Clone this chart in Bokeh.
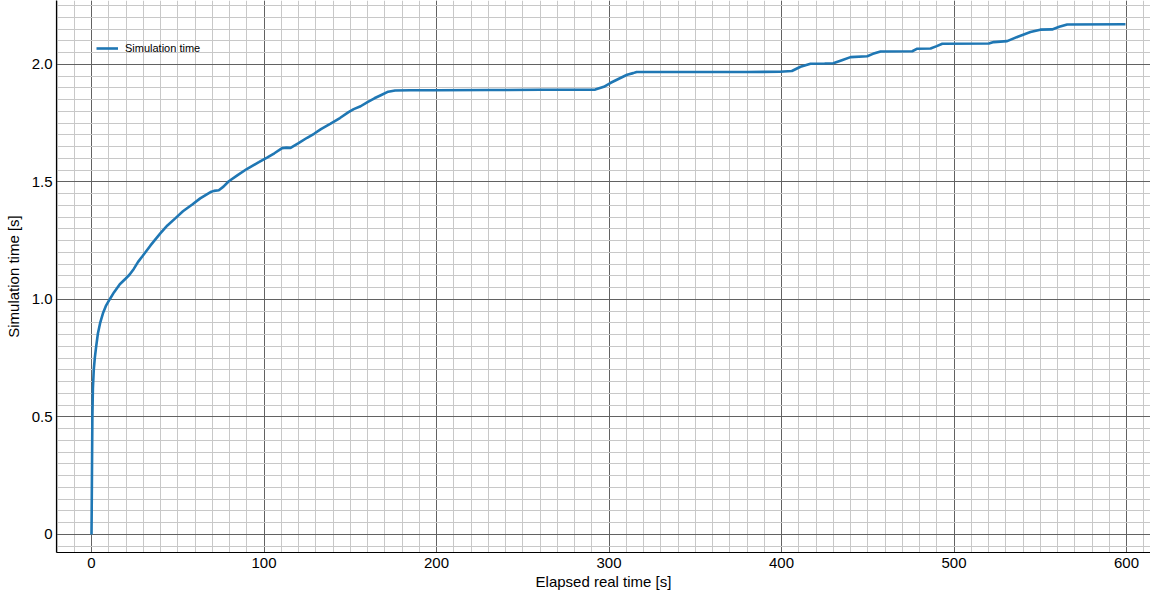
import numpy as np
from bokeh.plotting import figure
from bokeh.models import FixedTicker, Range1d, Legend, LegendItem
from bokeh.embed import file_html
from bokeh.resources import INLINE

# ---- data ----
elapsed = [0, 0.3, 0.5, 0.8, 1.3, 1.9, 2.7, 3.7, 5, 6.8, 8.5, 10.5, 13, 16.4, 19.7, 22,
           24.5, 27, 29.4, 34.2, 40, 44, 48.7, 53, 58.4, 63, 69, 71, 73.8, 76.5, 79.6,
           84.5, 90, 97, 102, 106, 110.5, 113, 115.4, 120, 125, 129, 133, 138.6, 144,
           149, 152, 156, 160, 164, 168, 172, 176, 185, 200, 230, 260, 292, 297, 301,
           306, 310.5, 314, 316, 350, 380, 399, 406, 411, 416.8, 425, 430, 435, 440,
           449.7, 453, 457.4, 475.8, 478.7, 486.4, 490, 493.2, 520.2, 523, 530.8, 537,
           544.3, 550, 556.9, 561, 565.6, 599.4]
sim_time = [0, 0.3, 0.5, 0.62, 0.7, 0.75, 0.8, 0.855, 0.9, 0.945, 0.975, 1.0, 1.03, 1.065,
            1.088, 1.105, 1.13, 1.16, 1.183, 1.23, 1.282, 1.315, 1.346, 1.375, 1.404, 1.43,
            1.457, 1.462, 1.465, 1.48, 1.503, 1.528, 1.555, 1.584, 1.605, 1.622, 1.644,
            1.646, 1.645, 1.665, 1.688, 1.705, 1.725, 1.748, 1.772, 1.797, 1.81, 1.822,
            1.84, 1.856, 1.87, 1.884, 1.889, 1.89, 1.89, 1.891, 1.892, 1.893, 1.905, 1.922,
            1.94, 1.956, 1.963, 1.968, 1.968, 1.968, 1.969, 1.972, 1.99, 2.003, 2.004,
            2.005, 2.018, 2.031, 2.035, 2.045, 2.055, 2.056, 2.067, 2.068, 2.078, 2.088,
            2.089, 2.095, 2.099, 2.118, 2.138, 2.148, 2.149, 2.16, 2.17, 2.171]

x_ticks = [0, 100, 200, 300, 400, 500, 600]
x_tick_labels = ["0", "100", "200", "300", "400", "500", "600"]
y_ticks = [0, 0.5, 1.0, 1.5, 2.0]
y_tick_labels = ["0", "0.5", "1.0", "1.5", "2.0"]
series_name = "Simulation time"
x_title = "Elapsed real time [s]"
y_title = "Simulation time [s]"

FONT = "Liberation Sans"

p = figure(width=1150, height=592, output_backend="svg", toolbar_location=None,
           x_range=Range1d(-20.3, 613.9), y_range=Range1d(-0.0766, 2.272),
           min_border_left=56, min_border_right=0, min_border_top=0, min_border_bottom=40)
p.outline_line_color = None
p.background_fill_color = "white"
p.border_fill_color = "white"

x_minor = [round(v, 3) for v in np.arange(-20, 621, 10)]
y_minor = [round(v, 3) for v in np.arange(-0.1, 2.26, 0.05)]

p.xaxis.ticker = FixedTicker(ticks=x_ticks, minor_ticks=x_minor)
p.yaxis.ticker = FixedTicker(ticks=y_ticks, minor_ticks=y_minor)
p.xaxis.major_label_overrides = {t: l for t, l in zip(x_ticks, x_tick_labels)}
p.yaxis.major_label_overrides = {t: l for t, l in zip(y_ticks, y_tick_labels)}

for ax in (p.xaxis, p.yaxis):
    ax.axis_line_color = "black"
    ax.axis_line_width = 1.2
    ax.major_tick_out = 0
    ax.major_tick_in = 0
    ax.minor_tick_out = 0
    ax.minor_tick_in = 0
    ax.major_label_text_font = FONT
    ax.major_label_text_font_size = "15px"
    ax.major_label_text_color = "black"
    ax.axis_label_text_font = FONT
    ax.axis_label_text_font_size = "15px"
    ax.axis_label_text_font_style = "normal"
    ax.axis_label_text_color = "black"

p.xaxis.axis_label = x_title
p.yaxis.axis_label = y_title
p.xaxis.major_label_standoff = 5
p.xaxis.axis_label_standoff = 2
p.yaxis.major_label_standoff = 4
p.yaxis.axis_label_standoff = 7

for g in (p.xgrid, p.ygrid):
    g.grid_line_color = "#626262"
    g.grid_line_width = 1
    g.minor_grid_line_color = "#c8c8c8"
    g.minor_grid_line_width = 1

r = p.line(elapsed, sim_time, line_color="#1f77b4", line_width=2.6)

legend = Legend(items=[LegendItem(label=series_name, renderers=[r])],
                location=(40, 497), background_fill_alpha=0, border_line_color=None,
                padding=5, margin=0, spacing=0,
                glyph_width=22, glyph_height=14, label_height=14,
                label_standoff=7, label_text_font=FONT, label_text_font_size="11px",
                label_text_color="black")
p.add_layout(legend)

open("out.html", "w").write(file_html(p, INLINE))
